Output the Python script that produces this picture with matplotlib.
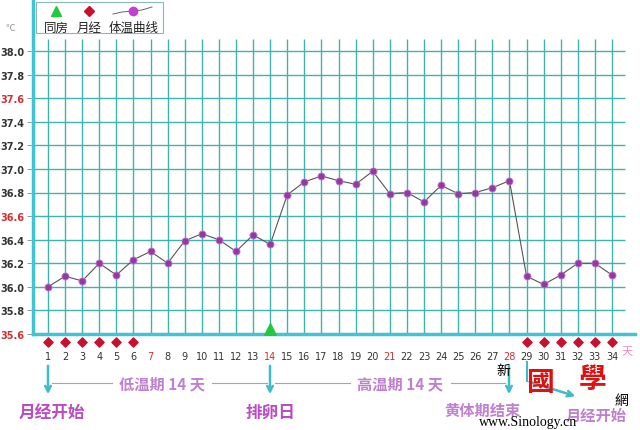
import numpy as np
import matplotlib.pyplot as plt
from matplotlib.lines import Line2D
from matplotlib.patches import Rectangle

plt.rcParams['font.family'] = ['Noto Sans CJK SC', 'DejaVu Sans']

# basal body temperature, one reading per cycle day
days = np.arange(1, 35)
temps = [36.00, 36.09, 36.05, 36.20, 36.10, 36.23, 36.30, 36.20, 36.39, 36.45,
         36.40, 36.30, 36.44, 36.36, 36.78, 36.89, 36.94, 36.90, 36.87, 36.98,
         36.79, 36.80, 36.72, 36.86, 36.79, 36.80, 36.84, 36.90, 36.09, 36.02,
         36.10, 36.20, 36.20, 36.10]
period_days = [1, 2, 3, 4, 5, 6, 29, 30, 31, 32, 33, 34]
sex_days = [14]
red_days = [7, 14, 21, 28]
yticks = np.round(np.arange(35.6, 38.01, 0.2), 1)
red_yticks = [35.6, 36.6, 37.6]
legend_labels = ['同房', '月经', '体温曲线']

grid_c = '#3fb3ad'
spine_c = '#40c4d4'
pink = '#b84cc0'
light_pink = '#c080d0'

fig = plt.figure(figsize=(6.4, 4.31), dpi=100)
W, H = 640, 431
x0, y0, x1 = 33, 335, 635
ax = fig.add_axes([x0 / W, (H - y0) / H, (x1 - x0) / W, y0 / H])


def fx(px):
    return px / W


def fy(py):
    return 1 - py / H


# pixel -> data scale (day 1 at x=48, day 34 at x=612; 38.0 at y=52)
px_day = (612 - 48) / 33
px_deg = (y0 - 52) / 2.4
ax.set_xlim(1 - (48 - x0) / px_day, 1 + (x1 - 48) / px_day)
ax.set_ylim(35.6, 35.6 + y0 / px_deg)

top_v = 38.0 + 12 / px_deg
right_h = 1 + (625 - 48) / px_day
ax.vlines(days, 35.6, top_v, color=grid_c, lw=1.0, zorder=1)
ax.hlines(yticks[1:], ax.get_xlim()[0], right_h, color=grid_c, lw=1.0, zorder=1)

ax.plot(days, temps, color='#555555', lw=0.8, zorder=3)
ax.scatter(days, temps, s=26, color='#8e3c9e', edgecolors='#d070e0', linewidths=0.6, zorder=4)

# period / intercourse markers below the axis
ax.scatter(period_days, [35.6 - 8 / px_deg] * len(period_days), marker='D', s=22,
           color='#c8102e', clip_on=False, zorder=5)
ax.scatter(sex_days, [35.6 + 5 / px_deg] * len(sex_days), marker='^', s=70,
           color='#22c840', clip_on=False, zorder=5)

for s in ['top', 'right']:
    ax.spines[s].set_visible(False)
for s in ['left', 'bottom']:
    ax.spines[s].set_color(spine_c)
    ax.spines[s].set_linewidth(2.5)

ax.set_yticks(yticks)
ax.set_yticklabels([f'{v:.1f}' for v in yticks], fontsize=7, fontweight='bold',
                   family='DejaVu Sans')
for lab, v in zip(ax.get_yticklabels(), yticks):
    lab.set_color('#d03030' if v in red_yticks else '#333333')
ax.tick_params(axis='y', length=4, width=0.6, color='#888888', pad=2)

ax.set_xticks(days)
ax.set_xticklabels([str(d) for d in days], fontsize=7, family='DejaVu Sans')
for lab, d in zip(ax.get_xticklabels(), days):
    lab.set_color('#d03030' if d in red_days else '#333333')
ax.tick_params(axis='x', length=0, pad=12)

fig.text(fx(627), fy(352), '天', fontsize=8, color='#e090c0', ha='center', va='center')
fig.text(fx(10), fy(28), '℃', fontsize=7, color='#999999', ha='center', va='center')

# legend box drawn by hand: symbols on top, labels below
fig.add_artist(Rectangle((fx(36), fy(34)), fx(163 - 36), 31 / H, transform=fig.transFigure,
                         facecolor='white', edgecolor='#8ab8b8', lw=0.8))
fig.add_artist(Line2D([fx(56)], [fy(12)], marker='^', color='#22c840', ms=7, ls='none'))
fig.add_artist(Line2D([fx(89)], [fy(12)], marker='D', color='#c8102e', ms=5, ls='none'))
fig.add_artist(Line2D([fx(113), fx(122), fx(133), fx(142), fx(152)],
                      [fy(15), fy(13), fy(12), fy(11), fy(8)], color='#666666', lw=0.7))
fig.add_artist(Line2D([fx(133)], [fy(12)], marker='o', color='#c040d0', ms=6, ls='none'))
for xc, lab in zip([56, 89, 134], legend_labels):
    fig.text(fx(xc), fy(28), lab, fontsize=9, color='#222222', ha='center', va='center')

# annotations below the chart
arrow_c = '#40bcc8'
for xa in [48, 270, 509]:
    fig.add_artist(plt.Annotation('', xy=(fx(xa), fy(398)), xytext=(fx(xa), fy(364)),
                                  xycoords='figure fraction',
                                  arrowprops=dict(arrowstyle='->', color=arrow_c, lw=1.8)))
fig.add_artist(Line2D([fx(527), fx(527)], [fy(363), fy(382)], color=arrow_c, lw=1.5))
fig.add_artist(plt.Annotation('', xy=(fx(578), fy(398)), xytext=(fx(527), fy(382)),
                              xycoords='figure fraction',
                              arrowprops=dict(arrowstyle='->', color=arrow_c, lw=1.8)))

line_c = '#a0a0d0'
for a, b in [(52, 112), (212, 267), (275, 350), (451, 505)]:
    fig.add_artist(Line2D([fx(a), fx(b)], [fy(384), fy(384)], color=line_c, lw=0.8))

fig.text(fx(162), fy(384), '低温期 14 天', fontsize=11, color=light_pink, ha='center',
         va='center', fontweight='bold')
fig.text(fx(400), fy(384), '高温期 14 天', fontsize=11, color=light_pink, ha='center',
         va='center', fontweight='bold')
fig.text(fx(52), fy(413), '月经开始', fontsize=12, color=pink, ha='center', va='center',
         fontweight='bold')
fig.text(fx(270), fy(413), '排卵日', fontsize=12, color=pink, ha='center', va='center',
         fontweight='bold')
fig.text(fx(482), fy(411), '黄体期结束', fontsize=11, color=light_pink, ha='center',
         va='center', fontweight='bold')
fig.text(fx(596), fy(416), '月经开始', fontsize=11, color=light_pink, ha='center',
         va='center', fontweight='bold')

# watermark
fig.text(fx(503), fy(371), '新', fontsize=10, color='black', ha='center', va='center')
fig.text(fx(540), fy(383), '國', fontsize=20, color='#e01010', ha='center', va='center',
         fontweight='bold')
fig.text(fx(593), fy(380), '學', fontsize=20, color='#e01010', ha='center', va='center',
         fontweight='bold')
fig.text(fx(621), fy(401), '網', fontsize=10, color='black', ha='center', va='center')
fig.text(fx(528), fy(423), 'www.Sinology.cn', fontsize=10, color='black', ha='center',
         va='center', family='Liberation Serif')

fig.savefig('out.png', dpi=100)
